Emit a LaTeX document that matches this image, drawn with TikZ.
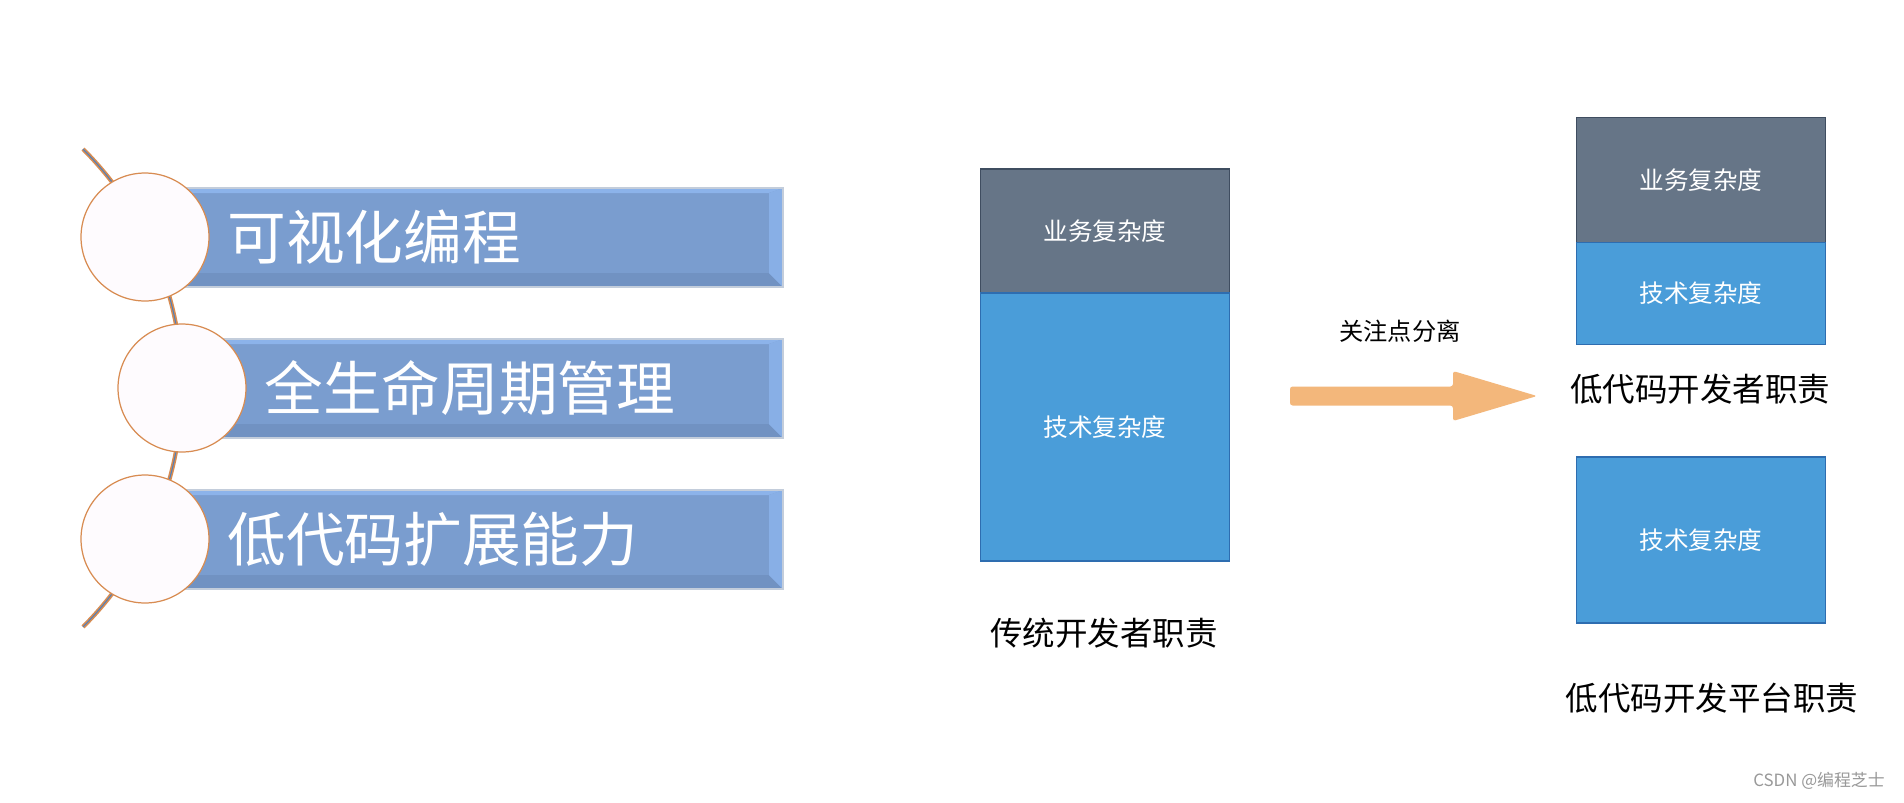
\documentclass[tikz,border=0pt]{standalone}
\usepackage{fontspec}
\setmainfont{Noto Sans CJK SC}
\usepackage{tikz}
\usetikzlibrary{calc}
\usetikzlibrary{positioning}

\definecolor{bizgray}{HTML}{667587}
\definecolor{bizline}{HTML}{3F4D60}
\definecolor{techblue}{HTML}{4A9DD9}
\definecolor{techline}{HTML}{2E6DB0}
\definecolor{barmain}{HTML}{7A9DCF}
\definecolor{bardark}{HTML}{7192C2}
\definecolor{barlight}{HTML}{88AFE6}
\definecolor{bartop}{HTML}{8CB3EA}
\definecolor{barline}{HTML}{C3CDDB}
\definecolor{ringline}{HTML}{D88C52}
\definecolor{ringfill}{HTML}{FEFBFE}
\definecolor{timeblue}{HTML}{4F81BD}
\definecolor{arrowfill}{HTML}{F3B77B}
\definecolor{markgray}{HTML}{999999}

\begin{document}
\begin{tikzpicture}[x=0.02cm, y=-0.02cm,
        ring/.style={circle, draw=ringline, line width=0.7pt, fill=ringfill, minimum size=2.56cm, inner sep=0},
        bartext/.style={anchor=west, inner sep=0, text=white, font=\fontsize{33.4}{40}\selectfont},
        bizbox/.style={rectangle, draw=bizline, fill=bizgray, line width=0.7pt, minimum width=4.97cm, outer sep=0, text=white, font=\fontsize{14}{17}\selectfont},
        techbox/.style={rectangle, draw=techline, fill=techblue, line width=0.7pt, minimum width=4.97cm, outer sep=0, text=white, font=\fontsize{14}{17}\selectfont},
        caption/.style={font=\fontsize{18.5}{22}\selectfont}]
            \fill[white] (0,0) rectangle (1904,802);
            \useasboundingbox (0,0) rectangle (1904,802);
            \coordinate (T) at (83,149);
            \draw[ringline, line width=2.4pt] (T) arc[start angle=45, end angle=-45, radius=6.76cm];
            \draw[timeblue, line width=0.6pt] (T) arc[start angle=45, end angle=-45, radius=6.76cm];
            \def\B{可视化编程/145/237, 全生命周期管理/182/388, 低代码扩展能力/145/539}
            \foreach \t/\cx/\cy[count=\i from 1] in \B
            {
                \fill[barmain] (\cx,\cy-49) rectangle (783,\cy+50);
                \fill[bartop] (\cx,\cy-49) -- (783,\cy-49) -- (769,\cy-44) -- (\cx,\cy-44) -- cycle;
                \fill[bardark] (\cx,\cy+36) -- (769,\cy+36) -- (783,\cy+50) -- (\cx,\cy+50) -- cycle;
                \fill[barlight] (769,\cy-44) -- (783,\cy-49) -- (783,\cy+50) -- (769,\cy+36) -- cycle;
                \draw[barline, line width=0.6pt] (\cx,\cy-49) rectangle (783,\cy+50);
                \node[ring] (c\i) at (\cx,\cy) {};
                \node[bartext] (t\i) at (\cx+82,\cy) {\t};
            }

            \node[bizbox, minimum height=2.48cm] (biz) at (1105,231) {业务复杂度};
            \node[techbox, minimum height=5.36cm, below=0pt of biz] (tech) {技术复杂度};
            \node[caption] (old) at (1104,633) {传统开发者职责};

            \coordinate (A) at (1290,396);
            \fill[arrowfill, rounded corners=1.5pt] ($(A) + (0,-9.5)$) -- ($(A) + (163,-9.5)$)
                -- ($(A) + (163,-25)$) -- ($(A) + (247,0)$) -- ($(A) + (163,25)$)
                -- ($(A) + (163,9.5)$) -- ($(A) + (0,9.5)$) -- cycle;
            \node[font=\fontsize{13.8}{16}\selectfont] (split) at (1400,331) {关注点分离};

            \node[bizbox, minimum height=2.5cm] (biz2) at (1701,180) {业务复杂度};
            \node[techbox, minimum height=2.04cm, below=0pt of biz2] (tech2) {技术复杂度};
            \node[caption] (dev) at (1700,389) {低代码开发者职责};
            \node[techbox, minimum height=3.32cm] (tech3) at (1701,540) {技术复杂度};
            \node[caption] (plat) at (1712,698) {低代码开发平台职责};

            \node[text=markgray, font=\fontsize{9.6}{12}\selectfont] (mark) at (1819,781) {CSDN @编程芝士};
        \end{tikzpicture}
\end{document}
